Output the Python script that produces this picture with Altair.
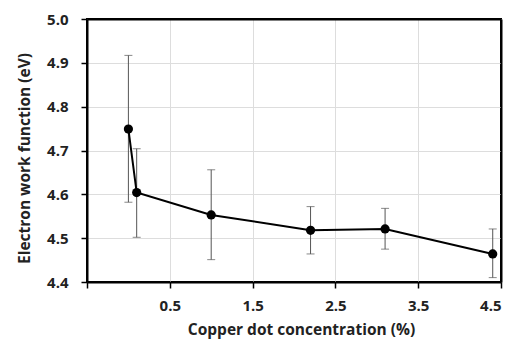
import altair as alt
import pandas as pd

conc = [0.0, 0.1, 1.0, 2.2, 3.1, 4.4]
work = [4.749, 4.604, 4.553, 4.518, 4.521, 4.464]
err_hi = [4.917, 4.704, 4.656, 4.572, 4.568, 4.521]
err_lo = [4.582, 4.502, 4.451, 4.464, 4.475, 4.410]

x_ticks = [-0.5, 0.5, 1.5, 2.5, 3.5, 4.5]
y_ticks = [4.4, 4.5, 4.6, 4.7, 4.8, 4.9, 5.0]

df = pd.DataFrame({"x": conc, "y": work, "hi": err_hi, "lo": err_lo})

FONT = "Open Sans"

xs = alt.Scale(domain=[-0.5, 4.5], nice=False, zero=False)
ys = alt.Scale(domain=[4.4, 5.0], nice=False, zero=False)

xax = alt.Axis(values=x_ticks, labelExpr="datum.value < 0 ? '' : format(datum.value, '.1f')",
               title="Copper dot concentration (%)", labelPadding=10, titlePadding=9,
               titleX=214,
               labelFontWeight="bold", titleFontWeight="bold")
yax = alt.Axis(values=y_ticks, format=".1f", title="Electron work function (eV)",
               labelPadding=13, titlePadding=14, titleY=139,
               labelFontWeight="bold", titleFontWeight="bold")
frame_x = alt.Axis(orient="top", values=x_ticks, labels=False, ticks=False, grid=False, title=None)
frame_y = alt.Axis(orient="right", values=y_ticks, labels=False, ticks=False, grid=False, title=None)

base = alt.Chart(df)

rules = base.mark_rule(color="#555555", strokeWidth=1).encode(
    x=alt.X("x:Q", scale=xs, axis=xax),
    y=alt.Y("lo:Q", scale=ys, axis=yax),
    y2="hi:Q",
)
cap_hi = base.mark_tick(color="#555555", thickness=1, size=8, orient="horizontal").encode(
    x=alt.X("x:Q", scale=xs, axis=xax), y=alt.Y("hi:Q", scale=ys, axis=yax))
cap_lo = base.mark_tick(color="#555555", thickness=1, size=8, orient="horizontal").encode(
    x=alt.X("x:Q", scale=xs, axis=xax), y=alt.Y("lo:Q", scale=ys, axis=yax))
line = base.mark_line(color="black", strokeWidth=2).encode(
    x=alt.X("x:Q", scale=xs, axis=xax), y=alt.Y("y:Q", scale=ys, axis=yax))
pts = base.mark_circle(color="black", size=85, opacity=1).encode(
    x=alt.X("x:Q", scale=xs, axis=xax), y=alt.Y("y:Q", scale=ys, axis=yax))

main = alt.layer(rules, cap_hi, cap_lo, line, pts)
frame = base.mark_point(opacity=0).encode(
    x=alt.X("x:Q", scale=xs, axis=frame_x), y=alt.Y("y:Q", scale=ys, axis=frame_y))

chart = alt.layer(main, frame).resolve_axis(x="independent", y="independent").properties(
    width=414, height=263,
    padding={"left": 79, "top": 11, "right": 4, "bottom": 64},
    autosize=alt.AutoSizeParams(type="none"),
).configure_view(
    stroke="black", strokeWidth=2
).configure_axis(
    labelFont=FONT, titleFont=FONT, labelFontSize=15, titleFontSize=15.5,
    labelColor="#222222", titleColor="#222222",
    domainColor="black", domainWidth=2, tickColor="black", tickWidth=1.5, tickSize=6,
    gridColor="#dddddd", gridWidth=1,
)

chart.save("out.html", embed_options={"renderer": "svg", "actions": False})
